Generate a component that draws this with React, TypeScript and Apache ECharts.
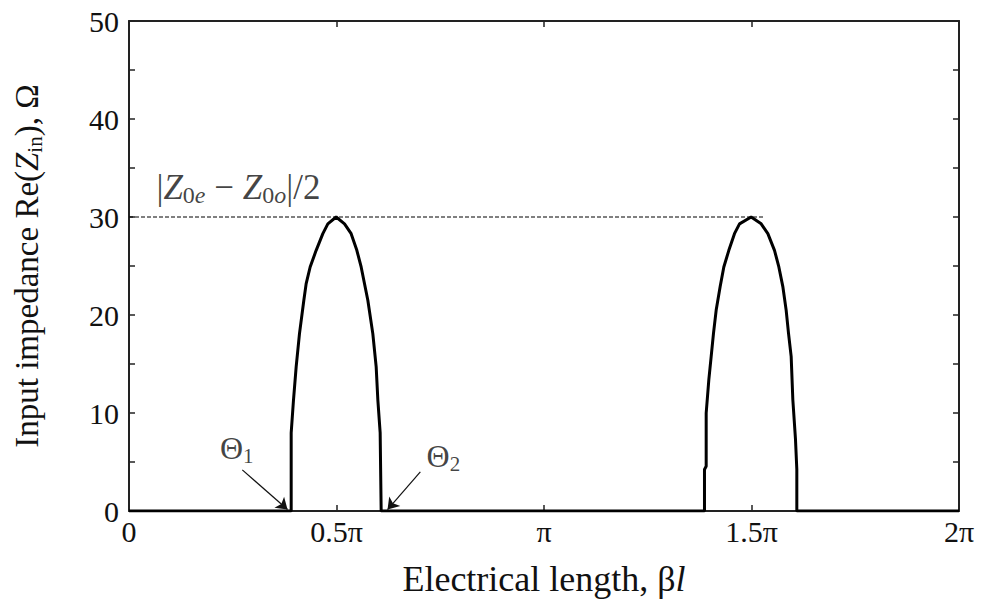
import React, { useEffect, useRef } from "react";
import * as echarts from "echarts";

// x in units of π, y in Ω
const xTickValues = [0, 0.5, 1, 1.5, 2];
const xTickLabels = ["0", "0.5π", "π", "1.5π", "2π"];
const yTickLabels = ["0", "10", "20", "30", "40", "50"];

const curveX = [
  0, 0.3908, 0.3908, 0.3964, 0.4028, 0.4108, 0.4213, 0.4269, 0.4365, 0.451, 0.4671, 0.4791, 0.4992,
  0.5193, 0.5353, 0.549, 0.5594, 0.5755, 0.5875, 0.5956, 0.5996, 0.6052, 0.6076,
  1.3867, 1.3867, 1.3908, 1.3908, 1.3972, 1.4028, 1.4084, 1.4149, 1.4245, 1.4333, 1.4454, 1.459, 1.4711, 1.4992,
  1.5233, 1.5394, 1.5554, 1.5659, 1.5755, 1.5835, 1.5892, 1.5956, 1.5996, 1.606, 1.6092, 1.6092, 2,
];
const curveY = [
  0, 0, 7.97, 11.35, 14.7, 18.1, 21.5, 23.2, 24.9, 26.6, 28.3, 29.3, 30,
  29.3, 28.3, 26.6, 24.9, 21.5, 18.1, 14.7, 11.35, 8, 0,
  0, 4.24, 4.57, 10.0, 13.4, 15.75, 18.13, 20.5, 22.9, 24.9, 26.6, 28.3, 29.3, 30,
  29.3, 28.3, 26.6, 24.9, 22.9, 20.5, 18.13, 15.75, 11.35, 7.3, 4.24, 0, 0,
];

const refLineX = [0, 1.53];
const refLineY = [30, 30];

// annotation arrows: [tailX, tailY, tipX, tipY]
const arrow1 = [0.273, 4.2, 0.382, 0.15];
const arrow2 = [0.702, 4.0, 0.623, 0.15];
// annotation label anchors
const theta1Pos = [0.219, 6.4];
const theta2Pos = [0.717, 5.6];
const zLabelPos = [0.066, 33.0];

const FONT = "'Liberation Serif', 'Times New Roman', serif";

export default function App() {
  const ref = useRef<HTMLDivElement>(null);
  useEffect(() => {
    if (!ref.current) return;
    const chart = echarts.init(ref.current, null, { renderer: "svg" });
    const base = { fontFamily: FONT, fontSize: 32, lineHeight: 36, color: "#111" };
    const subStyle = { fontFamily: FONT, fontSize: 21, lineHeight: 14, verticalAlign: "bottom", color: "#111" };
    const subItalic = { ...subStyle, fontStyle: "italic" };
    const axisLineStyle = { color: "#222", width: 2 };
    const tickStyle = { show: true, inside: true, length: 6, lineStyle: { color: "#222", width: 1.5 } };
    chart.setOption({
      animation: false,
      backgroundColor: "#fff",
      textStyle: { fontFamily: FONT },
      grid: { left: 129, right: 32, top: 21, bottom: 102, containLabel: false },
      xAxis: [
        {
          type: "value",
          min: 0,
          max: 2,
          interval: 0.5,
          position: "bottom",
          axisLine: { show: true, onZero: false, lineStyle: axisLineStyle },
          axisTick: tickStyle,
          splitLine: { show: false },
          axisLabel: {
            fontFamily: FONT,
            fontSize: 30,
            color: "#111",
            margin: 5,
            formatter: (v: number) => {
              const i = xTickValues.findIndex((t) => Math.abs(t - v) < 1e-6);
              return i >= 0 ? xTickLabels[i] : "";
            },
          },
          name: "{n|Electrical length, β}{i|l}",
          nameLocation: "middle",
          nameGap: 49,
          nameTextStyle: {
            rich: {
              n: { ...base, fontSize: 36, lineHeight: 38 },
              i: { ...base, fontSize: 36, lineHeight: 38, fontStyle: "italic" },
            },
          },
        },
        {
          type: "value",
          min: 0,
          max: 2,
          interval: 0.5,
          position: "top",
          axisLine: { show: true, onZero: false, lineStyle: axisLineStyle },
          axisTick: tickStyle,
          axisLabel: { show: false },
          splitLine: { show: false },
        },
      ],
      yAxis: [
        {
          type: "value",
          min: 0,
          max: 50,
          interval: 5,
          position: "left",
          axisLine: { show: true, onZero: false, lineStyle: axisLineStyle },
          axisTick: tickStyle,
          splitLine: { show: false },
          axisLabel: {
            fontFamily: FONT,
            fontSize: 30,
            color: "#111",
            margin: 10,
            formatter: (v: number) => {
              const s = String(Math.round(v));
              return yTickLabels.includes(s) ? s : "";
            },
          },
          name: "Input impedance Re({i|Z}{sub|in}), Ω",
          nameLocation: "middle",
          nameRotate: 90,
          nameGap: 84,
          nameTextStyle: {
            ...base,
            fontSize: 33,
            lineHeight: 36,
            rich: {
              i: { ...base, fontSize: 33, lineHeight: 36, fontStyle: "italic" },
              sub: { ...subStyle, fontSize: 21 },
            },
          },
        },
        {
          type: "value",
          min: 0,
          max: 50,
          interval: 5,
          position: "right",
          axisLine: { show: true, onZero: false, lineStyle: axisLineStyle },
          axisTick: tickStyle,
          axisLabel: { show: false },
          splitLine: { show: false },
        },
      ],
      series: [
        {
          type: "line",
          name: "Re(Zin)",
          data: curveX.map((x, i) => [x, curveY[i]]),
          symbol: "none",
          lineStyle: { color: "#000", width: 3 },
          z: 5,
        },
        {
          type: "line",
          name: "ref",
          data: refLineX.map((x, i) => [x, refLineY[i]]),
          symbol: "none",
          lineStyle: { color: "#000", width: 1, type: [4, 2] },
          z: 4,
        },
        {
          type: "lines",
          coordinateSystem: "cartesian2d",
          symbol: ["none", "arrow"],
          symbolSize: 11,
          lineStyle: { color: "#111", width: 1.2, opacity: 1 },
          data: [
            { coords: [[arrow1[0], arrow1[1]], [arrow1[2], arrow1[3]]] },
            { coords: [[arrow2[0], arrow2[1]], [arrow2[2], arrow2[3]]] },
          ],
          z: 6,
        },
        {
          type: "scatter",
          symbolSize: 0,
          silent: true,
          data: [
            { value: theta1Pos, label: { formatter: "Θ{sub|1}" } },
            { value: theta2Pos, label: { formatter: "Θ{sub|2}" } },
            {
              value: zLabelPos,
              label: {
                formatter: "|{i|Z}{sub|0}{subi|e} − {i|Z}{sub|0}{subi|o}|/2",
                fontSize: 35,
                lineHeight: 38,
                rich: {
                  i: { ...base, fontSize: 35, lineHeight: 38, fontStyle: "italic" },
                  sub: { ...subStyle, fontSize: 24, lineHeight: 16 },
                  subi: { ...subItalic, fontSize: 24, lineHeight: 16 },
                },
              },
            },
          ],
          label: {
            show: true,
            position: "inside",
            align: "left",
            verticalAlign: "middle",
            ...base,
            rich: {
              i: { ...base, fontStyle: "italic" },
              sub: subStyle,
              subi: subItalic,
            },
          },
          z: 7,
        },
      ],
    });
    return () => chart.dispose();
  }, []);
  return <div ref={ref} style={{ width: 991, height: 613, margin: -8 }} />;
}
